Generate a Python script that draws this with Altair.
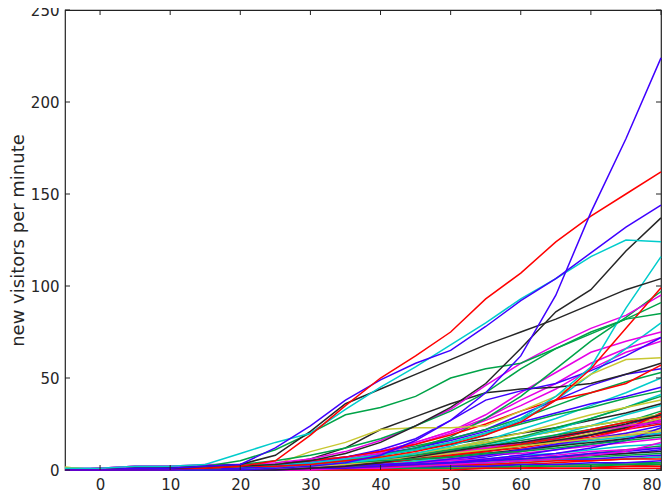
import altair as alt
import pandas as pd

# x positions (minutes)
X = [-5, 0, 5, 10, 15, 20, 25, 30, 35, 40, 45, 50, 55, 60, 65, 70, 75, 80]

# low, dense band
s01 = [0, 0, 0, 0, 0, 0, 0, 0, 0, 1, 1, 1, 1, 1, 1, 1, 2, 2]
s02 = [0, 0, 0, 0, 0, 0, 0, 1, 1, 1, 2, 2, 2, 3, 3, 3, 4, 4]
s03 = [0, 0, 0, 0, 0, 1, 1, 1, 2, 2, 3, 4, 5, 6, 7, 8, 9, 11]
s04 = [0, 0, 1, 1, 1, 1, 1, 2, 2, 3, 4, 5, 6, 8, 9, 11, 13, 14]
s05 = [1, 1, 2, 2, 3, 3, 3, 3, 3, 4, 5, 6, 8, 9, 11, 13, 15, 17]
s06 = [1.5, 0, 0, 1, 1, 1, 2, 2, 3, 4, 5, 7, 9, 11, 14, 17, 20, 22]
s07 = [0, 0, 0, 0, 1, 1, 1, 2, 3, 5, 7, 9, 11, 13, 16, 19, 23, 27]
s08 = [0, 0, 0, 0, 0, 1, 1, 2, 3, 4, 6, 8, 11, 14, 17, 21, 24, 28]
s09 = [0, 0, 0, 1, 1, 1, 2, 3, 5, 7, 9, 12, 15, 18, 21, 24, 27, 30]
s10 = [0, 1, 1, 1, 1, 2, 2, 3, 4, 5, 7, 9, 11, 13, 16, 19, 22, 25]
s11 = [0, 0, 0, 0, 1, 1, 1, 2, 3, 4, 5, 7, 10, 14, 19, 24, 30, 35]
s12 = [0, 1, 2, 2, 2, 2, 2, 3, 4, 6, 8, 10, 12, 14, 16, 17, 19, 20]
s13 = [0, 0, 0, 0, 0, 1, 1, 1, 2, 3, 4, 6, 8, 10, 13, 16, 18, 21]
s14 = [0, 0, 0, 0, 0, 0, 1, 1, 2, 2, 3, 4, 5, 6, 7, 8, 9, 10]
s15 = [0, 0, 0, 0, 1, 1, 1, 2, 2, 3, 4, 5, 7, 10, 14, 19, 24, 30]
s16 = [0, 0, 0, 0, 0, 1, 1, 1, 2, 3, 3, 4, 5, 6, 7, 9, 11, 13]
s17 = [0, 0, 0, 0, 0, 0, 0, 1, 1, 1, 2, 2, 3, 3, 4, 5, 6, 7]
s18 = [0, 0, 0, 0, 0, 0, 1, 1, 1, 2, 2, 3, 3, 4, 5, 6, 6, 7]
s19 = [0, 1, 2, 2, 2, 2, 2, 2, 3, 3, 4, 5, 6, 7, 8, 10, 11, 12]
s20 = [0, 0, 0, 0, 0, 0, 0, 1, 1, 2, 2, 3, 4, 5, 6, 6, 7, 8]
s21 = [0, 0, 0, 0, 1, 1, 2, 3, 5, 7, 9, 11, 13, 16, 19, 22, 24, 26]
s22 = [0, 0, 0, 1, 1, 2, 3, 4, 5, 6, 8, 10, 12, 14, 17, 21, 24, 28]
s23 = [0, 0, 0, 0, 0, 0, 1, 1, 1, 2, 3, 4, 6, 8, 11, 14, 17, 20]
s24 = [0, 0, 0, 0, 0, 0, 0, 0, 1, 1, 1, 2, 2, 2, 3, 3, 3, 4]
s25 = [0, 0, 0, 0, 0, 0, 0, 0, 0, 0, 1, 1, 1, 1, 2, 2, 2, 3]
s26 = [0, 0, 0, 0, 0, 1, 1, 1, 2, 3, 5, 7, 10, 13, 16, 20, 24, 28]
s27 = [0, 0, 0, 0, 1, 1, 2, 3, 4, 5, 6, 8, 10, 13, 16, 19, 23, 26]
s28 = [0, 0, 0, 0, 0, 0, 0, 1, 1, 1, 1, 2, 2, 3, 3, 4, 4, 5]
s29 = [0, 0, 0, 0, 0, 0, 0, 0, 0, 1, 1, 1, 1, 2, 2, 2, 3, 3]
s30 = [0, 0, 0, 0, 0, 0, 0, 0, 0, 0, 0, 0, 1, 1, 1, 1, 1, 1]
s31 = [0, 0, 0, 0, 0, 0, 1, 1, 2, 3, 4, 6, 8, 10, 13, 17, 22, 27]
s32 = [0, 0, 0, 0, 0, 1, 1, 2, 3, 4, 5, 7, 9, 11, 13, 16, 18, 20]
s33 = [0, 0, 0, 0, 1, 1, 1, 2, 2, 3, 3, 4, 5, 6, 7, 9, 10, 12]
s34 = [0, 0, 0, 0, 0, 1, 1, 1, 2, 2, 3, 3, 4, 5, 6, 7, 8, 9]
s35 = [0, 0, 0, 0, 0, 0, 1, 1, 1, 2, 2, 3, 3, 4, 5, 5, 6, 6]
s36 = [0, 0, 0, 0, 0, 1, 2, 3, 4, 5, 6, 8, 10, 12, 15, 18, 22, 31]
s37 = [0, 0, 0, 0, 0, 0, 1, 2, 3, 4, 6, 7, 9, 11, 13, 15, 17, 19]
s38 = [0, 0, 0, 0, 0, 0, 0, 0, 1, 1, 2, 3, 4, 5, 6, 8, 10, 15]
s39 = [0, 0, 0, 0, 0, 0, 0, 1, 1, 2, 3, 4, 5, 7, 9, 12, 16, 23]
s40 = [0, 0, 0, 0, 1, 2, 3, 4, 5, 6, 7, 9, 11, 14, 18, 22, 26, 32]
s41 = [0, 0, 0, 0, 1, 1, 2, 3, 5, 8, 11, 14, 17, 20, 23, 27, 31, 36]
s42 = [0, 0, 0, 0, 0, 1, 1, 2, 4, 6, 9, 12, 15, 18, 21, 24, 27, 30]
s43 = [0, 0, 0, 0, 0, 1, 1, 2, 3, 5, 7, 10, 13, 17, 22, 28, 34, 41]
s44 = [0, 0, 0, 0, 1, 1, 2, 3, 4, 6, 8, 11, 14, 18, 23, 28, 34, 40]
s45 = [0, 0, 0, 0, 0, 0, 1, 1, 2, 4, 6, 8, 11, 14, 18, 22, 26, 29]
s46 = [0, 0, 0, 0, 0, 1, 1, 2, 3, 5, 7, 9, 12, 15, 18, 21, 24, 26]
s47 = [0, 0, 0, 0, 0, 0, 1, 1, 2, 3, 4, 6, 8, 11, 14, 17, 20, 24]
s48 = [0, 0, 0, 0, 0, 0, 1, 2, 3, 5, 7, 9, 11, 13, 15, 17, 19, 21]
s49 = [0, 0, 0, 0, 0, 0, 0, 1, 2, 4, 7, 10, 13, 15, 18, 21, 25, 30]
s50 = [0, 0, 0, 0, 0, 1, 2, 3, 4, 5, 6, 7, 9, 10, 12, 14, 16, 18]

# middle group
s51 = [0, 0, 0, 1, 1, 1, 2, 3, 5, 8, 12, 17, 22, 30, 38, 46, 52, 55]
s52 = [0, 0, 0, 1, 1, 2, 3, 5, 7, 10, 13, 17, 22, 28, 35, 42, 48, 53]
s53 = [0, 0, 0, 0, 1, 1, 2, 3, 4, 6, 9, 12, 16, 22, 28, 35, 42, 50]
s54 = [0, 0, 1, 1, 1, 2, 2, 4, 6, 9, 12, 16, 21, 26, 31, 36, 40, 45]
s55 = [0, 0, 0, 1, 1, 1, 2, 3, 5, 8, 11, 15, 20, 25, 30, 34, 39, 43]
s56 = [0, 0, 0, 0, 1, 1, 2, 3, 5, 7, 9, 12, 16, 20, 25, 30, 34, 38]
s57 = [0, 0, 1, 1, 2, 2, 3, 5, 7, 10, 15, 21, 28, 38, 47, 58, 66, 72]
s58 = [0, 1, 1, 1, 2, 2, 3, 4, 6, 9, 14, 20, 27, 35, 44, 55, 64, 70]
s59 = [0, 0, 0, 0, 1, 1, 2, 3, 4, 6, 9, 13, 19, 27, 38, 52, 66, 80]
s60 = [0, 0, 0, 1, 1, 2, 3, 4, 7, 10, 15, 21, 30, 42, 53, 64, 70, 75]
s61 = [0, 0, 0, 0, 1, 1, 2, 3, 5, 8, 12, 18, 28, 40, 55, 70, 83, 97]
s62 = [0, 0, 1, 1, 2, 2, 3, 6, 12, 22, 29, 36, 42, 44, 45, 47, 52, 58]
s63 = [0, 0, 0, 1, 1, 1, 2, 4, 7, 11, 17, 27, 38, 43, 47, 54, 62, 72]
s64 = [0, 0, 1, 1, 1, 2, 3, 5, 7, 10, 14, 19, 25, 32, 38, 42, 47, 57]
s65 = [1.5, 0, 1, 1, 1, 2, 3, 10, 15, 22, 23, 23, 24, 32, 40, 52, 60, 61]
s66 = [0, 0, 1, 1, 2, 3, 4, 6, 10, 16, 24, 33, 46, 58, 68, 77, 84, 95]
s67 = [0, 0, 1, 1, 2, 3, 5, 8, 12, 17, 24, 32, 42, 55, 66, 75, 82, 91]

# top group
s68 = [0, 0, 0, 1, 1, 2, 2, 3, 5, 7, 10, 14, 19, 26, 38, 55, 77, 99]
s69 = [0, 0, 0, 1, 1, 2, 3, 4, 6, 8, 11, 15, 20, 28, 40, 56, 88, 116]
s70 = [0, 0, 1, 1, 2, 5, 11, 20, 30, 34, 40, 50, 55, 58, 66, 74, 82, 85]
s71 = [0, 0, 0, 1, 1, 2, 3, 5, 9, 15, 24, 34, 47, 66, 86, 98, 119, 137]
s72 = [0, 0, 1, 1, 2, 3, 8, 21, 36, 44, 52, 60, 68, 75, 82, 90, 98, 104]
s73 = [1, 1, 2, 2, 3, 9, 15, 20, 33, 45, 56, 68, 80, 93, 104, 116, 125, 124]
s74 = [0, 0, 1, 1, 2, 3, 12, 24, 38, 49, 58, 65, 78, 92, 104, 118, 132, 144]
s75 = [0, 0, 0, 0, 1, 2, 5, 19, 35, 50, 62, 75, 93, 107, 124, 138, 150, 162]
s76 = [0, 0, 0, 0, 0, 0, 1, 2, 4, 8, 16, 27, 42, 62, 95, 140, 180, 224]

series = [s01, s02, s03, s04, s05, s06, s07, s08, s09, s10,
          s11, s12, s13, s14, s15, s16, s17, s18, s19, s20,
          s21, s22, s23, s24, s25, s26, s27, s28, s29, s30,
          s31, s32, s33, s34, s35, s36, s37, s38, s39, s40,
          s41, s42, s43, s44, s45, s46, s47, s48, s49, s50,
          s51, s52, s53, s54, s55, s56, s57, s58, s59, s60,
          s61, s62, s63, s64, s65, s66, s67, s68, s69, s70,
          s71, s72, s73, s74, s75, s76]

# colour letter per series (matplotlib classic style)
letters = ["r", "g", "b", "c", "m", "y", "k", "b", "g", "r",
           "c", "m", "y", "k", "b", "g", "r", "c", "m", "b",
           "g", "r", "b", "g", "r", "y", "k", "b", "g", "r",
           "m", "c", "b", "g", "r", "r", "k", "m", "b", "g",
           "k", "y", "c", "g", "r", "m", "b", "y", "k", "g",
           "b", "g", "c", "b", "g", "y", "m", "m", "c", "m",
           "g", "k", "b", "r", "y", "m", "g",
           "r", "c", "g", "k", "k", "c", "b", "r", "b"]

palette = {"b": "#3f00ff", "g": "#00a348", "r": "#ff0000", "c": "#00cccc",
           "m": "#e600e6", "y": "#c8c832", "k": "#262626"}

xticks = [0, 10, 20, 30, 40, 50, 60, 70, 80]
yticks = [0, 50, 100, 150, 200, 250]

rows = []
names = []
for i, s in enumerate(series):
    name = f"s{i + 1:02d}"
    names.append(name)
    for xv, yv in zip(X, s):
        rows.append({"x": xv, "y": yv, "series": name})
df = pd.DataFrame(rows)
colors = [palette[c] for c in letters]

W, H = 596, 460
xs = alt.Scale(domain=[-5, 80], nice=False, zero=False)
ys = alt.Scale(domain=[0, 250], nice=False)

lines = alt.Chart(df).mark_line(strokeWidth=1.5).encode(
    x=alt.X("x:Q", scale=xs, axis=alt.Axis(values=xticks, title=None, ticks=False,
                                             domain=False, grid=False, labelPadding=7)),
    y=alt.Y("y:Q", scale=ys, axis=alt.Axis(values=yticks, title="new visitors per minute",
                                             ticks=False, domain=False, grid=False,
                                             labelPadding=6, titlePadding=3)),
    color=alt.Color("series:N", scale=alt.Scale(domain=names, range=colors), legend=None),
    order=alt.Order("x:Q"),
)

xt = pd.DataFrame({"x": xticks})
yt = pd.DataFrame({"y": yticks})
tc = "#222222"
xb = alt.Chart(xt).mark_rule(color=tc, strokeWidth=1).encode(
    x=alt.X("x:Q", scale=xs), y=alt.value(H), y2=alt.value(H - 5))
xtop = alt.Chart(xt).mark_rule(color=tc, strokeWidth=1).encode(
    x=alt.X("x:Q", scale=xs), y=alt.value(0), y2=alt.value(5))
yl = alt.Chart(yt).mark_rule(color=tc, strokeWidth=1).encode(
    y=alt.Y("y:Q", scale=ys), x=alt.value(0), x2=alt.value(5))
yr = alt.Chart(yt).mark_rule(color=tc, strokeWidth=1).encode(
    y=alt.Y("y:Q", scale=ys), x=alt.value(W), x2=alt.value(W - 5))

chart = alt.layer(lines, xb, xtop, yl, yr).properties(
    width=W, height=H,
    autosize=alt.AutoSizeParams(type="none"),
    padding={"left": 57, "top": 2, "right": 3, "bottom": 27},
    background="white",
).configure_view(stroke="#222222", strokeWidth=1.2).configure_axis(
    labelFont="DejaVu Sans", labelFontSize=15, labelColor="#262626",
    titleFont="DejaVu Sans", titleFontSize=18, titleFontWeight="normal", titleColor="#262626",
)

chart.save("out.html", embed_options={"renderer": "svg", "actions": False})
